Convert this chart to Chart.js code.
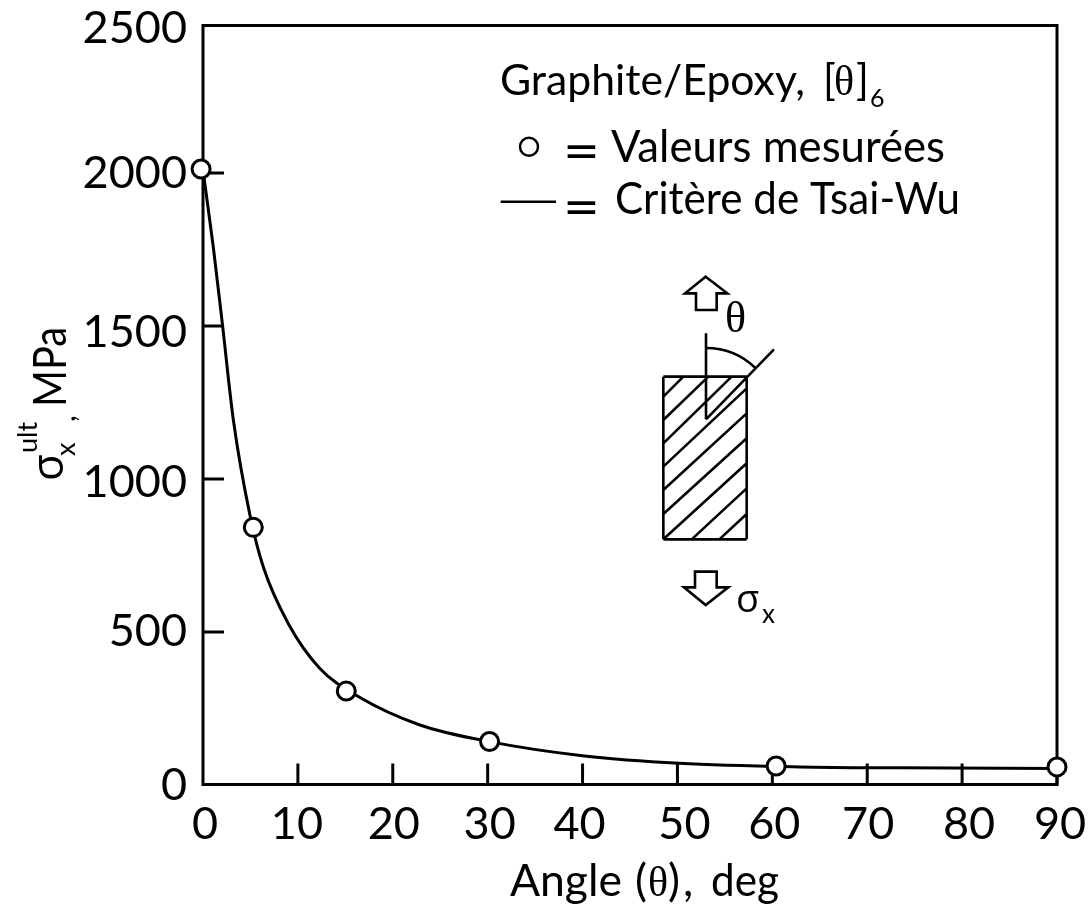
<!DOCTYPE html>
<html><head><meta charset="utf-8">
<style>html,body{margin:0;padding:0;background:#fff}canvas{display:block}</style>
<script src="https://cdn.jsdelivr.net/npm/chart.js@4"></script>
</head><body><div style="width:1088px;height:908px"><canvas id="c" width="1088" height="908"></canvas></div>
<script>
const measuredAngles = [-0.2, 5.3, 15.1, 30.2, 60.4, 90];
const measuredStrength = [2013, 842, 307, 142, 62, 59];
const curveAngles = [0, 1.08, 2.03, 3.2, 4.95, 6.35, 8.98, 12.32, 16.36, 22.86, 30.3, 40.2, 50.2, 62.9, 73.4, 90];
const curveStrength = [2010, 1759, 1510, 1193, 882, 713, 528, 381, 289, 196, 141, 95, 71, 59, 56, 54];
const xTicks = [0, 10, 20, 30, 40, 50, 60, 70, 80, 90];
const yTicks = [0, 500, 1000, 1500, 2000, 2500];

const INK = '#000';
const SANS = 'Lato, sans-serif';
const GREEK = '"Open Sans", sans-serif';
const SERIF = '"Liberation Serif", serif';
const yLabelNudge = {0: 0, 500: -1, 1000: 3, 1500: 6, 2000: 0, 2500: 8};
const xLabelNudge = {0: 2, 10: -1, 20: 1, 30: 2, 40: -3, 50: 7, 60: 2, 70: 1, 80: 7, 90: 3};

function txt(ctx, s, x, y, font) { ctx.font = font; ctx.fillText(s, x, y); }
function fit(ctx, s, x0, x1, y, font) {
  ctx.font = font;
  const k = (x1 - x0) / ctx.measureText(s).width;
  ctx.save(); ctx.translate(x0, y); ctx.scale(k, 1); ctx.fillText(s, 0, 0); ctx.restore();
}

const decor = {
  id: 'decor',
  beforeDraw(chart) {
    chart.scales.y.getLabelItems().forEach((it, i) => {
      if (it._n) return; it._n = true;
      it.options.translation[1] += yLabelNudge[yTicks[i]] || 0;
    });
    chart.scales.x.getLabelItems().forEach((it, i) => {
      if (it._n) return; it._n = true;
      it.options.translation[0] += xLabelNudge[xTicks[i]] || 0;
    });
  },
  beforeDatasetsDraw(chart) {
    const ctx = chart.ctx, xs = chart.scales.x, ys = chart.scales.y;
    const L = xs.left, R = xs.right, B = ys.bottom - 0.5, T = 25.5;
    ctx.save();
    ctx.strokeStyle = INK; ctx.lineWidth = 3; ctx.lineJoin = 'miter';
    ctx.strokeRect(L, T, R - L, B - T);
    ctx.beginPath();
    xs.ticks.forEach(t => { if (t.value > 0) { const p = xs.getPixelForValue(t.value); ctx.moveTo(p, B); ctx.lineTo(p, B - 21); } });
    ys.ticks.forEach(t => { if (t.value > 0 && t.value < 2500) { const p = ys.getPixelForValue(t.value); ctx.moveTo(L, p); ctx.lineTo(L + 21, p); } });
    ctx.stroke();
    ctx.restore();
  },
  afterDatasetsDraw(chart) {
    const ctx = chart.ctx;
    ctx.save();
    ctx.fillStyle = INK; ctx.strokeStyle = INK; ctx.textAlign = 'left'; ctx.textBaseline = 'alphabetic';
    // x title
    fit(ctx, 'Angle', 510, 622, 896, '45px ' + SANS);
    txt(ctx, '(', 635, 896, '45px ' + SANS);
    txt(ctx, 'θ', 648, 896, '42px ' + SERIF);
    txt(ctx, ')', 668, 896, '45px ' + SANS);
    txt(ctx, ',', 683, 896, '45px ' + SANS);
    fit(ctx, 'deg', 711, 779, 896, '45px ' + SANS);
    // y title
    ctx.save(); ctx.rotate(-Math.PI / 2);
    txt(ctx, 'σ', -481, 63, '44px ' + GREEK);
    txt(ctx, 'x', -456, 75, '27px ' + SANS);
    txt(ctx, 'ult', -453, 37, '27px ' + SANS);
    txt(ctx, ',', -422, 75, '30px ' + SANS);
    fit(ctx, 'MPa', -407, -327, 66, '47px ' + SANS);
    ctx.restore();
    // legend
    fit(ctx, 'Graphite/Epoxy,', 500, 805, 95, '42px ' + SANS);
    txt(ctx, '[', 823, 95, '42px ' + SANS);
    txt(ctx, 'θ', 834, 95, '42px ' + SERIF);
    txt(ctx, ']', 856, 95, '42px ' + SANS);
    txt(ctx, '6', 870, 107, '25px ' + SANS);
    txt(ctx, '=', 563, 166, '44px "DejaVu Sans"');
    fit(ctx, 'Valeurs mesurées', 611, 945, 162, '44px ' + SANS);
    txt(ctx, '=', 563, 222, '44px "DejaVu Sans"');
    fit(ctx, 'Critère de Tsai-Wu', 615, 960, 214, '44px ' + SANS);
    ctx.lineWidth = 2.5;
    ctx.beginPath(); ctx.arc(529, 146.7, 9, 0, Math.PI * 2); ctx.stroke();
    ctx.beginPath(); ctx.moveTo(500.7, 201.7); ctx.lineTo(556, 201.7); ctx.stroke();
    // ply diagram
    const P = (x, y) => [640 + x / 3, 260 + y / 3];
    const seg = (a, b, c, d) => { ctx.moveTo(...P(a, b)); ctx.lineTo(...P(c, d)); };
    ctx.lineWidth = 2.6; ctx.lineJoin = 'miter';
    ctx.beginPath();
    seg(70, 350, 320, 350); seg(320, 350, 320, 838); seg(320, 838, 70, 838); seg(70, 838, 70, 350);
    [[70,410,130,350],[70,480,205,350],[70,550,275,350],[70,620,320,385],[70,690,320,460],[70,762,320,535],[70,838,320,610],[155,838,320,685],[238,838,320,762]]
      .forEach(s => seg(...s));
    seg(198, 220, 198, 478); seg(198, 478, 402, 268);
    ctx.stroke();
    ctx.beginPath(); ctx.arc(706, 419, 71, -Math.PI / 2, -Math.PI / 4 - 0.02); ctx.stroke();
    const poly = pts => { ctx.beginPath(); pts.forEach((p, i) => { const q = P(...p); i ? ctx.lineTo(...q) : ctx.moveTo(...q); }); ctx.closePath(); ctx.stroke(); };
    poly([[197,50],[262,100],[230,100],[230,150],[168,150],[168,100],[135,100]]);
    poly([[165,935],[230,935],[230,982],[265,982],[197,1035],[132,982],[165,982]]);
    txt(ctx, 'θ', 725, 332, '44px ' + SERIF);
    txt(ctx, 'σ', 736, 612, '38px ' + GREEK);
    txt(ctx, 'x', 762, 623, '26px ' + SANS);
    ctx.restore();
  }
};

function noPad(s) { s.paddingLeft = s.paddingRight = s.paddingTop = s.paddingBottom = 0; }

new Chart(document.getElementById('c'), {
  type: 'scatter',
  data: { datasets: [
    { label: 'Valeurs mesurées', data: measuredAngles.map((x, i) => ({x, y: measuredStrength[i]})), order: 0,
      pointRadius: 9, pointBorderWidth: 3, pointBackgroundColor: '#fff', pointBorderColor: INK, showLine: false, clip: false },
    { label: 'Critère de Tsai-Wu', data: curveAngles.map((x, i) => ({x, y: curveStrength[i]})), order: 1,
      pointRadius: 0, showLine: true, borderColor: INK, borderWidth: 3, cubicInterpolationMode: 'monotone', clip: false }
  ]},
  options: {
    responsive: false, animation: false, events: [],
    layout: { autoPadding: false, padding: { top: 20, right: 31, left: 0, bottom: 0 } },
    plugins: { legend: { display: false }, tooltip: { enabled: false } },
    scales: {
      x: { type: 'linear', min: 0, max: 90, afterFit(s) { s.height = 123; noPad(s); },
        afterBuildTicks(s) { s.ticks = xTicks.map(value => ({value})); },
        grid: { display: false, drawTicks: false }, border: { display: false },
        ticks: { autoSkip: false, maxRotation: 0, padding: 12, color: INK, callback: v => String(v), font: { family: 'Lato', size: 45 } } },
      y: { type: 'linear', min: 0, max: 2500, afterFit(s) { s.width = 203; noPad(s); },
        afterBuildTicks(s) { s.ticks = yTicks.map(value => ({value})); },
        grid: { display: false, drawTicks: false }, border: { display: false },
        ticks: { autoSkip: false, padding: 16, color: INK, callback: v => String(v), font: { family: 'Lato', size: 45 } } }
    }
  },
  plugins: [decor]
});
</script></body></html>
